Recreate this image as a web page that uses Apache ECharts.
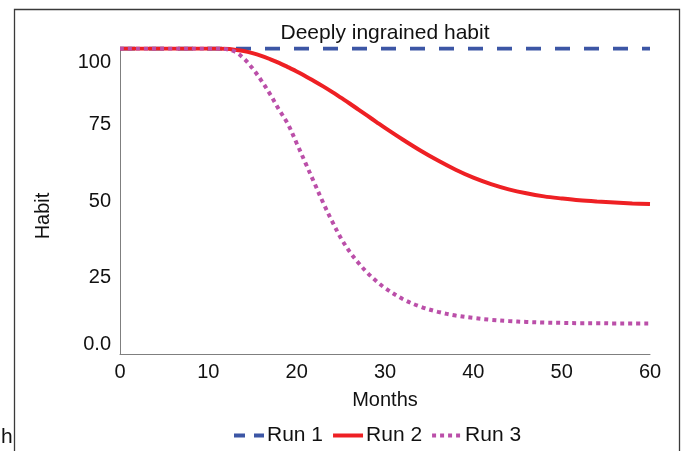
<!DOCTYPE html>
<html>
<head>
<meta charset="utf-8">
<script src="https://cdn.jsdelivr.net/npm/echarts@6/dist/echarts.min.js"></script>
<style>
  html, body { margin: 0; padding: 0; background: #fff; }
  #chart { width: 681px; height: 451px; }
</style>
</head>
<body>
<div id="chart"></div>
<script>
// Habit strength over time for three simulation runs
const months = [0, 5, 10, 11, 12, 13, 14, 15, 16, 17, 18, 19, 20, 21, 22, 23, 24, 25, 26, 27, 28, 29, 30,
  32, 34, 36, 38, 40, 42, 44, 46, 48, 50, 52, 54, 56, 58, 60];
const run1 = [100, 100, 100, 100, 100, 100, 100, 100, 100, 100, 100, 100, 100, 100, 100, 100, 100, 100, 100, 100, 100, 100, 100,
  100, 100, 100, 100, 100, 100, 100, 100, 100, 100, 100, 100, 100, 100, 100];
const run2 = [100, 100, 100, 100, 99.9, 99.6, 99.2, 98.5, 97.6, 96.5, 95.3, 93.9, 92.5, 90.9, 89.3, 87.6, 85.8, 83.9, 82.0, 80.0, 78.0, 76.0, 74.0,
  70.2, 66.6, 63.3, 60.3, 57.7, 55.6, 53.9, 52.6, 51.6, 50.9, 50.3, 49.9, 49.6, 49.3, 49.1];
const run3 = [100, 100, 100, 100, 99.8, 99.0, 96.8, 93.5, 89.5, 85.0, 80.0, 75.3, 69.0, 62.5, 56.0, 49.5, 43.5, 38.0, 33.5, 29.8, 26.6, 23.9, 21.6,
  18.0, 15.5, 13.8, 12.6, 11.8, 11.2, 10.8, 10.5, 10.3, 10.2, 10.1, 10.1, 10.0, 10.0, 10.0];
const seriesNames = ['Run 1', 'Run 2', 'Run 3'];
const xTicks = [0, 10, 20, 30, 40, 50, 60];
const yTicks = [0, 25, 50, 75, 100];
const titleText = 'Deeply ingrained habit';
const xName = 'Months';
const yName = 'Habit';

const FONT = '"Liberation Sans", Arial, sans-serif';
const pairs = vals => months.map((m, i) => [m, vals[i]]);
const C1 = '#3c56a5', C2 = '#ee2024', C3 = '#bb4fa9';

const chart = echarts.init(document.getElementById('chart'), null, { renderer: 'canvas' });

chart.setOption({
  animation: false,
  backgroundColor: '#ffffff',
  grid: { left: 120, right: 31, top: 48.5, bottom: 97, containLabel: false },
  xAxis: {
    type: 'value',
    min: xTicks[0],
    max: xTicks[xTicks.length - 1],
    interval: 10,
    axisLine: { show: true, lineStyle: { color: '#7f7f7f', width: 1 } },
    axisTick: { show: false },
    splitLine: { show: false },
    axisLabel: {
      margin: 8,
      fontFamily: FONT, fontSize: 20, color: '#111',
      formatter: v => (xTicks.includes(v) ? String(v) : '')
    }
  },
  yAxis: {
    type: 'value',
    min: yTicks[0],
    max: yTicks[yTicks.length - 1],
    interval: 25,
    axisLine: { show: true, lineStyle: { color: '#7f7f7f', width: 1 } },
    axisTick: { show: false },
    splitLine: { show: false },
    axisLabel: {
      margin: 9,
      fontFamily: FONT, fontSize: 20, color: '#111',
      formatter: v => {
        if (v === yTicks[yTicks.length - 1]) return '{hi|' + v + '}';
        if (v === yTicks[0]) return '{lo|0.0}';
        return yTicks.includes(v) ? String(v) : '';
      },
      rich: {
        hi: { fontFamily: FONT, fontSize: 20, color: '#111', padding: [27, 0, 0, 0] },
        lo: { fontFamily: FONT, fontSize: 20, color: '#111', padding: [0, 0, 20, 0] }
      }
    }
  },
  legend: {
    left: 227,
    top: 420,
    itemWidth: 30,
    itemHeight: 14,
    itemGap: 8,
    itemStyle: { opacity: 0 },
    textStyle: { fontFamily: FONT, fontSize: 21, color: '#111', padding: [0, 0, 0, -2] },
    data: [
      { name: seriesNames[0], lineStyle: { type: [11, 9], width: 4 } },
      { name: seriesNames[1], lineStyle: { width: 4 } },
      { name: seriesNames[2], lineStyle: { type: [4, 4], width: 4 } }
    ]
  },
  series: [
    {
      name: seriesNames[0], type: 'line', data: pairs(run1), showSymbol: false, symbol: 'none',
      lineStyle: { color: C1, width: 4, type: [15, 14], cap: 'butt' },
      itemStyle: { color: C1 }, z: 1
    },
    {
      name: seriesNames[1], type: 'line', data: pairs(run2), showSymbol: false, symbol: 'none',
      smooth: 0.35,
      lineStyle: { color: C2, width: 4, type: 'solid' },
      itemStyle: { color: C2 }, z: 2
    },
    {
      name: seriesNames[2], type: 'line', data: pairs(run3), showSymbol: false, symbol: 'none',
      smooth: 0.35,
      lineStyle: { color: C3, width: 4, type: [4, 4], cap: 'butt' },
      itemStyle: { color: C3 }, z: 3
    }
  ],
  graphic: [
    {
      type: 'rect', silent: true, z: 0,
      shape: { x: 14.5, y: 9.5, width: 665, height: 500 },
      style: { fill: 'none', stroke: '#3a3a3a', lineWidth: 1.3 }
    },
    {
      type: 'text', silent: true,
      style: { x: 385, y: 33, text: titleText, fontFamily: FONT, fontSize: 21, fill: '#111',
        textAlign: 'center', textVerticalAlign: 'middle' }
    },
    {
      type: 'text', silent: true,
      style: { x: 385, y: 400, text: xName, fontFamily: FONT, fontSize: 20, fill: '#111',
        textAlign: 'center', textVerticalAlign: 'middle' }
    },
    {
      type: 'text', silent: true, x: 43, y: 216, rotation: Math.PI / 2,
      style: { x: 0, y: 0, text: yName, fontFamily: FONT, fontSize: 20, fill: '#111',
        textAlign: 'center', textVerticalAlign: 'middle' }
    },
    {
      type: 'text', silent: true,
      style: { x: 1, y: 427, text: 'h', fontFamily: FONT, fontSize: 21, fill: '#111',
        textAlign: 'left', textVerticalAlign: 'top' }
    }
  ]
});
</script>
</body>
</html>
